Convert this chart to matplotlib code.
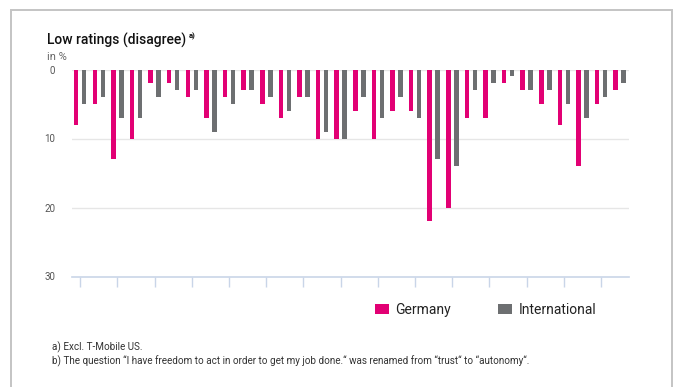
import matplotlib
matplotlib.use("Agg")
import matplotlib.pyplot as plt
import numpy as np
from matplotlib.patches import Rectangle, Patch

germany = [8, 5, 13, 10, 2, 2, 4, 7, 4, 3, 5, 7, 4, 10, 10, 6, 10, 6, 6, 22, 20, 7, 7, 2, 3, 5, 8, 14, 5, 3]
international = [5, 4, 7, 7, 4, 3, 3, 9, 5, 3, 4, 6, 4, 9, 10, 4, 7, 4, 7, 13, 14, 3, 2, 1, 3, 3, 5, 7, 4, 2]
series_names = ["Germany", "International"]
y_ticks = [0, 10, 20, 30]

PINK = "#e20074"
GRAY = "#6d6f71"
W, H = 678, 387

plt.rcParams['font.family'] = ['Roboto', 'DejaVu Sans']

fig = plt.figure(figsize=(W / 100, H / 100), dpi=100)

# outer border
fig.patches.append(Rectangle((11 / W, -0.05), (672 - 11) / W, 1.05 - 10 / H,
                             transform=fig.transFigure, fill=False,
                             edgecolor="#c4c4c4", linewidth=1.4))

left, right, top, bottom = 71.7, 629, 69.5, 276.5
ax = fig.add_axes([left / W, 1 - bottom / H, (right - left) / W, (bottom - top) / H])

x = np.arange(len(germany))
off, bw = 0.215, 0.24
ax.bar(x - off, germany, width=bw, color=PINK, zorder=3)
ax.bar(x + off, international, width=bw, color=GRAY, zorder=3)

ax.set_xlim(-0.46, len(germany) - 0.5)
ax.set_ylim(30, 0)
ax.set_yticks(y_ticks)
ax.set_yticklabels([str(v) for v in y_ticks], fontsize=7, color="#555555")
ax.tick_params(axis="y", length=0, pad=12)
ax.set_xticks(x[::2])
ax.set_xticklabels([])
ax.tick_params(axis="x", length=7, width=1, color="#c9d5e8", direction="out")
for v in y_ticks[:-1]:
    ax.axhline(v, color="#e6e6e6", linewidth=1, zorder=1)
for s in ["left", "right", "top"]:
    ax.spines[s].set_visible(False)
ax.spines["bottom"].set_color("#c9d5e8")
ax.spines["bottom"].set_linewidth(1.2)

# titles
title = fig.text(47 / W, 1 - 45 / H, "Low ratings (disagree)", fontsize=10, color="#111111",
                 va="baseline", ha="left", fontweight="medium")
fig.canvas.draw()
bb = title.get_window_extent(renderer=fig.canvas.get_renderer())
fig.text((bb.x1 + 3) / W, 1 - 38 / H, "a)", fontsize=5.5, color="#111111",
         va="baseline", ha="left", fontweight="bold")
fig.text(47 / W, 1 - 59.5 / H, "in %", fontsize=8, color="#666666", va="baseline", ha="left")

# legend
handles = [Patch(facecolor=PINK, edgecolor="none"), Patch(facecolor=GRAY, edgecolor="none")]
fig.legend(handles, series_names, loc="center left", bbox_to_anchor=(375 / W, 1 - 310 / H),
           ncol=2, frameon=False, fontsize=10, handlelength=1.0, handleheight=0.8,
           handletextpad=0.45, columnspacing=3.4, borderpad=0, borderaxespad=0,
           labelcolor="#222222")

# footnotes
fig.text(52 / W, 1 - 350.5 / H, "a) Excl. T-Mobile US.", fontsize=7.1, color="#333333",
         va="baseline", ha="left")
fig.text(52 / W, 1 - 364.5 / H,
         "b) The question \u201cI have freedom to act in order to get my job done.\u201c was renamed from \u201ctrust\u201c to \u201cautonomy\u201c.",
         fontsize=7.1, color="#333333", va="baseline", ha="left")

fig.savefig("out.png", dpi=100)
